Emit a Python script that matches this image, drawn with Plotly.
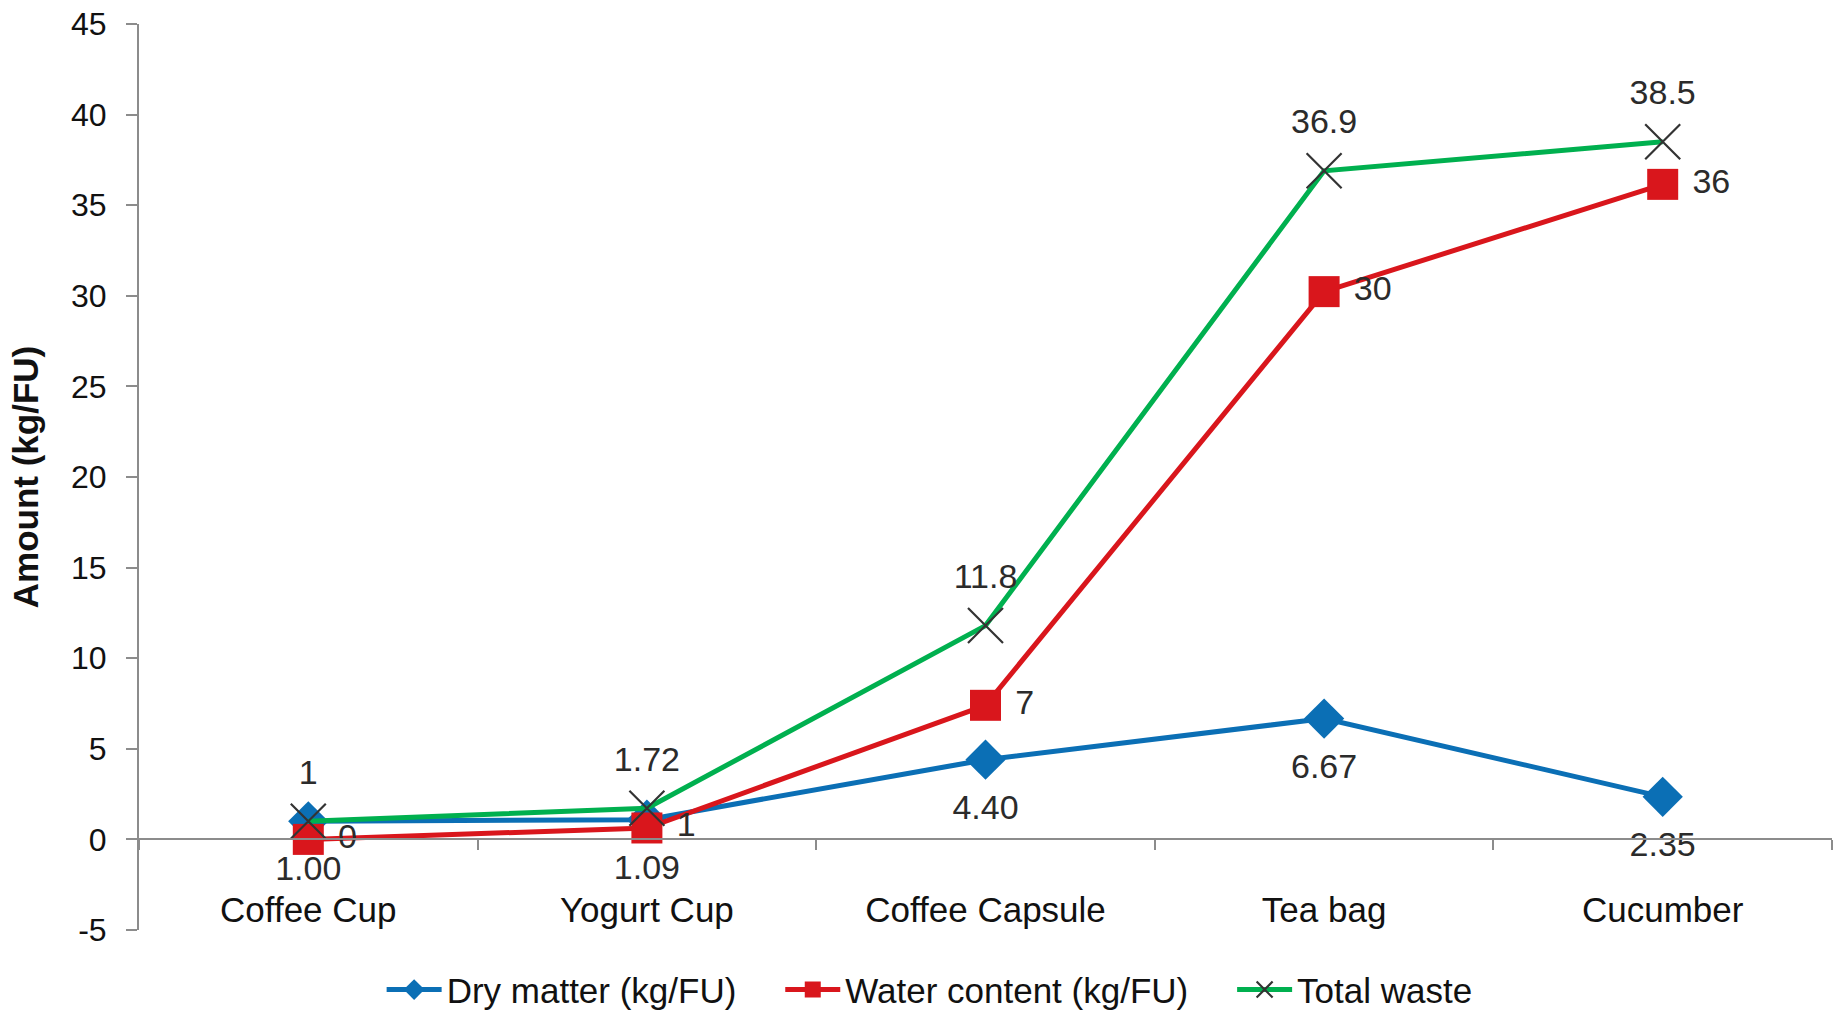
import plotly.graph_objects as go

categories = ["Coffee Cup", "Yogurt Cup", "Coffee Capsule", "Tea bag", "Cucumber"]
dry_matter = [1.00, 1.09, 4.40, 6.67, 2.35]
water_content = [0.0, 0.63, 7.4, 30.23, 36.15]
total_waste = [1.0, 1.72, 11.8, 36.9, 38.5]
y_tick_vals = [-5, 0, 5, 10, 15, 20, 25, 30, 35, 40, 45]
y_tick_text = ["-5", "0", "5", "10", "15", "20", "25", "30", "35", "40", "45"]
series_names = ["Dry matter (kg/FU)", "Water content (kg/FU)", "Total waste"]

FONT = "Liberation Sans, Arial, sans-serif"
BLUE = "#0B6FB5"
RED = "#D9161C"
GREEN = "#00B04F"
LABEL_COLOR = "#2B2B2B"
GAP = "\u00a0" * 4

fig = go.Figure()

fig.add_trace(go.Scatter(
    x=categories, y=dry_matter, name=series_names[0] + GAP,
    mode="lines+markers",
    line=dict(color=BLUE, width=5),
    marker=dict(symbol="diamond", size=31, color=BLUE),
))
fig.add_trace(go.Scatter(
    x=categories, y=water_content, name=series_names[1] + GAP,
    mode="lines+markers",
    line=dict(color=RED, width=5),
    marker=dict(symbol="square", size=31, color=RED),
))
fig.add_trace(go.Scatter(
    x=categories, y=total_waste, name=series_names[2],
    mode="lines+markers",
    line=dict(color=GREEN, width=5),
    marker=dict(symbol="x-thin", size=35, color="#333333",
                line=dict(color="#333333", width=2.2)),
))

# data labels (invisible marker sizes set the label offset)
label_font = dict(family=FONT, size=34, color=LABEL_COLOR)
fig.add_trace(go.Scatter(
    x=categories, y=dry_matter, mode="markers+text", showlegend=False,
    hoverinfo="skip", marker=dict(size=52, opacity=0),
    texttemplate="%{y:.2f}", textposition="bottom center", textfont=label_font,
))
fig.add_trace(go.Scatter(
    x=categories, y=water_content, mode="markers+text", showlegend=False,
    hoverinfo="skip", marker=dict(size=46, opacity=0),
    texttemplate="%{y:.0f}", textposition="middle right", textfont=label_font,
))
fig.add_trace(go.Scatter(
    x=categories, y=total_waste, mode="markers+text", showlegend=False,
    hoverinfo="skip", marker=dict(size=45, opacity=0),
    texttemplate="%{y:.3~g}", textposition="top center", textfont=label_font,
))

fig.update_layout(
    width=1845, height=1011,
    paper_bgcolor="white", plot_bgcolor="white",
    margin=dict(l=139, r=13, t=24, b=81, autoexpand=False),
    font=dict(family=FONT, size=35, color="#111111"),
    showlegend=True,
    legend=dict(
        orientation="h", x=0.467, xanchor="center", y=-0.066, yanchor="middle",
        font=dict(family=FONT, size=35, color="#111111"),
        itemwidth=55, bgcolor="rgba(0,0,0,0)",
    ),
    xaxis=dict(
        type="category", range=[-0.5, 4.5],
        anchor="free", position=0.1, automargin=False,
        showline=True, linecolor="#8C8C8C", linewidth=2,
        ticks="outside", tickson="boundaries", ticklen=10, tickwidth=2,
        tickcolor="#8C8C8C", showgrid=False, zeroline=False,
        tickfont=dict(family=FONT, size=35, color="#111111"),
        ticklabelstandoff=40,
    ),
    yaxis=dict(
        range=[-5, 45], tickvals=y_tick_vals, ticktext=y_tick_text,
        automargin=False,
        showline=True, linecolor="#8C8C8C", linewidth=2,
        ticks="outside", ticklen=11, tickwidth=2, tickcolor="#8C8C8C",
        showgrid=False, zeroline=False, ticklabelstandoff=13,
        tickfont=dict(family=FONT, size=32, color="#111111"),
        title=dict(text="<b>Amount (kg/FU)</b>", standoff=22,
                   font=dict(family=FONT, size=35, color="#111111")),
    ),
)

fig.write_html(
    "out.html",
    config={"displayModeBar": False},
    post_script="document.body.style.margin='0';document.body.style.overflow='hidden';",
)
